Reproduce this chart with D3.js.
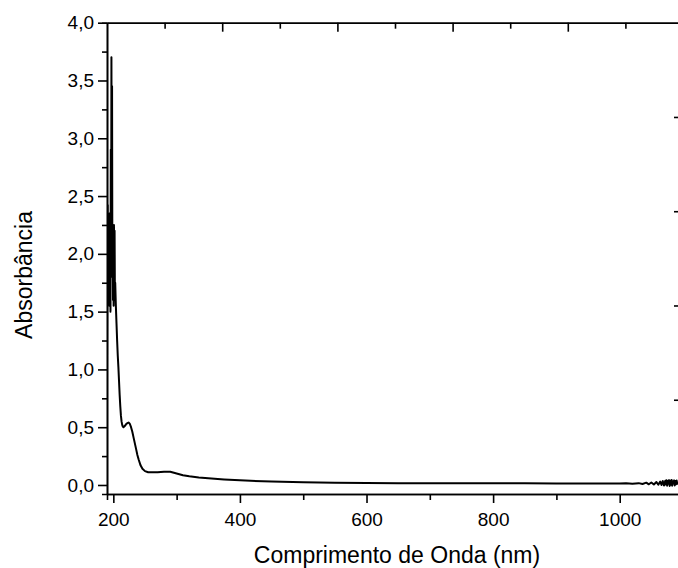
<!DOCTYPE html>
<html>
<head>
<meta charset="utf-8">
<script src="https://cdn.jsdelivr.net/npm/d3@7"></script>
<style>
  html, body { margin: 0; padding: 0; background: #fff; }
  svg { display: block; }
  text { font-family: "Liberation Sans", Arial, sans-serif; fill: #000; }
</style>
</head>
<body>
<svg id="chart" width="678" height="568"></svg>
<script>
// ---- data ----
const wavelength = [
  190, 190.5, 191, 191.5, 192, 192.5, 193, 193.5, 194, 194.5, 195, 195.5, 196, 196.5,
  197, 197.5, 198, 198.5, 199, 199.5, 200, 200.5, 201, 201.5, 202, 202.5, 203, 204,
  205, 206, 207, 208, 209, 210, 211, 212, 213, 214, 215, 216, 218, 220, 222, 224, 226,
  228, 230, 232, 234, 236, 238, 240, 243, 246, 250, 255, 260, 270, 280, 290, 300, 310,
  320, 335, 350, 375, 400, 450, 500, 550, 600, 650, 700, 750, 800, 850, 900, 950, 1000,
  1010, 1020, 1030, 1036, 1042, 1046, 1050, 1054, 1058, 1061, 1064, 1066, 1068, 1070,
  1072, 1073, 1074, 1075, 1076, 1077, 1078, 1079, 1080, 1081, 1082, 1083, 1084, 1085,
  1086, 1087, 1088, 1089, 1090, 1091, 1092
];
const absorbance = [
  1.00, 1.90, 2.42, 1.60, 2.30, 1.70, 2.10, 1.55, 2.35, 1.80, 2.00, 1.50, 2.90, 1.90,
  3.70, 2.20, 3.45, 1.80, 2.20, 1.60, 2.00, 1.55, 2.25, 1.75, 2.20, 1.60, 1.75, 1.55,
  1.40, 1.25, 1.12, 1.02, 0.90, 0.78, 0.68, 0.60, 0.55, 0.52, 0.505, 0.50, 0.51, 0.525, 0.535, 0.54, 0.53,
  0.50, 0.46, 0.41, 0.36, 0.31, 0.26, 0.22, 0.17, 0.14, 0.12, 0.11, 0.11, 0.11, 0.115, 0.115, 0.10, 0.085,
  0.075, 0.065, 0.058, 0.048, 0.040, 0.030, 0.024, 0.020, 0.017, 0.016, 0.015, 0.014, 0.015, 0.014, 0.013, 0.012, 0.012,
  0.014, 0.010, 0.016, 0.008, 0.020, 0.006, 0.022, 0.004, 0.026, 0.002, 0.030, 0.000, 0.034, -0.004,
  0.036, 0.004, 0.040, -0.006, 0.034, 0.010, 0.042, -0.008, 0.036, 0.002, 0.044, -0.006, 0.030, 0.012,
  0.040, -0.004, 0.034, 0.006, 0.038, 0.010, 0.025
];
const yTickValues = [0, 0.5, 1.0, 1.5, 2.0, 2.5, 3.0, 3.5, 4.0];
const yMinorValues = [0.25, 0.75, 1.25, 1.75, 2.25, 2.75, 3.25, 3.75];
const xTickValues = [200, 400, 600, 800, 1000];
const xMinorValues = [300, 500, 700, 900];
const topTickMajor = [2, 4, 6, 8];
const topTickMinor = [1, 3, 5, 7, 9];
const rightTickValues = [1, 2, 3, 4];
const xTitle = "Comprimento de Onda (nm)";
const yTitle = "Absorbância";

// ---- layout ----
const svg = d3.select("#chart");
const L = 107, R = 683, T = 22.7, B = 494;

const x = d3.scaleLinear().domain([190, 1100]).range([L, R]);
const y = d3.scaleLinear().domain([-0.078, 4.0]).range([B, T]);
const xTop = d3.scaleLinear().domain([0, 10]).range([L, R]);
const yRight = d3.scaleLinear().domain([0, 5]).range([B, T]);

const fmt = d => d3.format(".1f")(d).replace(".", ",");

function styleAxis(g) {
  g.selectAll("path.domain").attr("stroke", "#000").attr("stroke-width", 1.6);
  g.selectAll(".tick line").attr("stroke", "#000").attr("stroke-width", 1.6);
  g.selectAll(".tick text").style("font-size", "19px").attr("fill", "#000");
}

svg.append("defs").append("clipPath").attr("id", "clip")
  .append("rect").attr("x", L).attr("y", T - 2).attr("width", R - L).attr("height", B - T + 2);

const line = d3.line().x((d, i) => x(wavelength[i])).y(d => y(d));
svg.append("path")
  .attr("clip-path", "url(#clip)")
  .attr("d", line(absorbance))
  .attr("fill", "none")
  .attr("stroke", "#000")
  .attr("stroke-width", 2)
  .attr("stroke-linejoin", "round");

svg.append("g").attr("transform", `translate(${L},0)`)
  .call(d3.axisLeft(y).tickValues(yMinorValues).tickSize(5).tickFormat(""))
  .call(styleAxis);
svg.append("g").attr("transform", `translate(${L},0)`)
  .call(d3.axisLeft(y).tickValues(yTickValues).tickSize(9).tickSizeOuter(0).tickPadding(4).tickFormat(fmt))
  .call(styleAxis);

svg.append("g").attr("transform", `translate(0,${B})`)
  .call(d3.axisBottom(x).tickValues(xMinorValues).tickSize(6).tickFormat(""))
  .call(styleAxis);
svg.append("g").attr("transform", `translate(0,${B})`)
  .call(d3.axisBottom(x).tickValues(xTickValues).tickSize(9).tickSizeOuter(0).tickPadding(10).tickFormat(d3.format("d")))
  .call(styleAxis);

svg.append("g").attr("transform", `translate(0,${T})`)
  .call(d3.axisTop(xTop).tickValues(topTickMinor).tickSizeInner(-6).tickSizeOuter(0).tickFormat(""))
  .call(styleAxis);
svg.append("g").attr("transform", `translate(0,${T})`)
  .call(d3.axisTop(xTop).tickValues(topTickMajor).tickSizeInner(-9).tickSizeOuter(0).tickFormat(""))
  .call(styleAxis);

svg.append("g").attr("transform", `translate(${R},0)`)
  .call(d3.axisRight(yRight).tickValues(rightTickValues).tickSizeInner(-9).tickSizeOuter(0).tickFormat(""))
  .call(styleAxis);

svg.append("text")
  .attr("x", (256 + 538) / 2).attr("y", 563)
  .attr("text-anchor", "middle")
  .style("font-size", "23px")
  .text(xTitle);
svg.append("text")
  .attr("transform", `translate(32,${275}) rotate(-90)`)
  .attr("text-anchor", "middle")
  .style("font-size", "23px")
  .text(yTitle);
</script>
</body>
</html>
